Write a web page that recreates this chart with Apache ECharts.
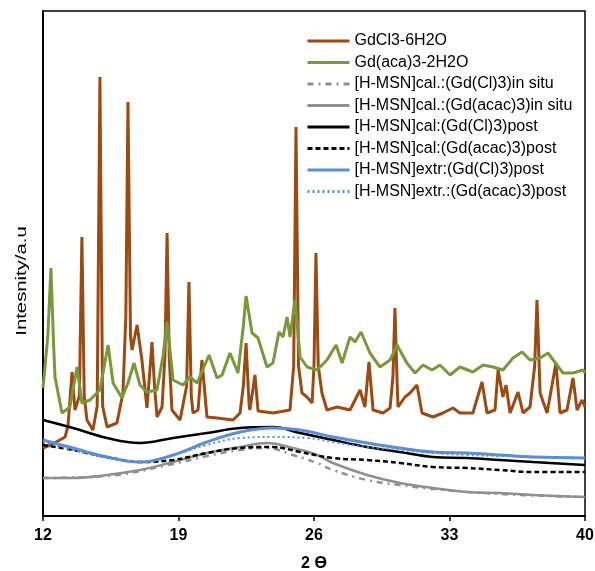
<!DOCTYPE html>
<html>
<head>
<meta charset="utf-8">
<script src="https://cdn.jsdelivr.net/npm/echarts@6/dist/echarts.min.js"></script>
<style>
  html, body { margin: 0; padding: 0; background: #fff; }
  #chart { width: 595px; height: 571px; }
</style>
</head>
<body>
<div id="chart"></div>
<script>
// series names (legend order)
const seriesNames = [
  'GdCl3-6H2O',
  'Gd(aca)3-2H2O',
  '[H-MSN]cal.:(Gd(Cl)3)in situ',
  '[H-MSN]cal.:(Gd(acac)3)in situ',
  '[H-MSN]cal:(Gd(Cl)3)post',
  '[H-MSN]cal:(Gd(acac)3)post',
  '[H-MSN]extr:(Gd(Cl)3)post',
  '[H-MSN]extr.:(Gd(acac)3)post'
];

const xTicks = [12, 19, 26, 33, 40];

// [2theta, intensity (a.u.)]
const gdcl3 = [
  [12.00, 68], [12.50, 72], [13.14, 79], [13.29, 90], [13.50, 144], [13.65, 106],
  [13.88, 120], [14.01, 279], [14.13, 120], [14.27, 96], [14.58, 86], [14.80, 110],
  [14.94, 439], [15.08, 110], [15.31, 89], [15.82, 93], [16.13, 123], [16.28, 200],
  [16.39, 414], [16.52, 180], [16.60, 166], [16.86, 191], [17.11, 156], [17.37, 108],
  [17.50, 140], [17.63, 174], [17.76, 130], [17.89, 99], [18.15, 109], [18.30, 160],
  [18.41, 283], [18.52, 160], [18.66, 106], [19.08, 96], [19.42, 130], [19.54, 234],
  [19.66, 120], [19.75, 103], [20.01, 106], [20.21, 156], [20.47, 99], [20.99, 98],
  [21.82, 96], [22.18, 103], [22.35, 130], [22.49, 173], [22.65, 110], [22.69, 106],
  [22.95, 141], [23.11, 105], [23.21, 103], [23.88, 103], [24.76, 106], [24.95, 150],
  [25.07, 389], [25.20, 150], [25.38, 123], [25.64, 119], [25.90, 113], [26.00, 150],
  [26.10, 263], [26.22, 150], [26.41, 123], [26.67, 106], [27.19, 109], [27.86, 106],
  [28.38, 126], [28.63, 109], [28.84, 154], [29.05, 106], [29.56, 103], [29.93, 108],
  [30.08, 140], [30.18, 208], [30.30, 130], [30.34, 109], [30.70, 119], [30.96, 123],
  [31.32, 131], [31.58, 103], [32.15, 99], [32.66, 103], [33.18, 108], [33.54, 103],
  [34.21, 103], [34.68, 134], [34.94, 103], [35.35, 106], [35.51, 146], [35.76, 119],
  [35.92, 131], [36.13, 103], [36.54, 124], [36.80, 103], [37.16, 109], [37.40, 150],
  [37.52, 216], [37.68, 123], [38.04, 103], [38.50, 153], [38.71, 103], [39.07, 106],
  [39.38, 138], [39.59, 106], [39.85, 116], [40.00, 109]
];

const gdacac = [
  [12.00, 128], [12.25, 180], [12.41, 248], [12.55, 170], [12.62, 139], [12.98, 103],
  [13.39, 109], [13.76, 149], [14.01, 113], [14.43, 116], [14.94, 126], [15.36, 171],
  [15.62, 133], [16.08, 118], [16.39, 133], [16.70, 153], [17.01, 131], [17.37, 124],
  [17.89, 126], [18.20, 160], [18.41, 194], [18.72, 136], [19.23, 131], [19.59, 139],
  [19.96, 133], [20.58, 161], [20.99, 138], [21.25, 141], [21.66, 163], [22.07, 143],
  [22.35, 190], [22.49, 220], [22.80, 183], [23.11, 178], [23.57, 149], [23.88, 153],
  [24.19, 184], [24.40, 179], [24.61, 199], [24.76, 179], [25.02, 216], [25.28, 159],
  [25.64, 149], [26.16, 146], [26.67, 156], [27.14, 171], [27.45, 153], [27.86, 179],
  [28.12, 174], [28.43, 184], [28.89, 163], [29.41, 149], [29.93, 156], [30.29, 171],
  [30.80, 153], [31.22, 143], [31.63, 151], [32.10, 146], [32.51, 151], [33.03, 141],
  [33.54, 149], [34.21, 144], [34.73, 151], [35.25, 149], [35.76, 146], [36.28, 158],
  [36.75, 164], [37.16, 156], [37.68, 158], [38.09, 163], [38.55, 151], [38.86, 143],
  [39.38, 143], [39.90, 146], [40.00, 143]
];

const calClInSitu = [
  [12.00, 38], [15.31, 40], [18.72, 52], [20.47, 60], [22.18, 66], [23.57, 68],
  [24.91, 61], [26.16, 53], [26.98, 46], [28.74, 36], [30.44, 31], [32.15, 27],
  [35.61, 22], [40.00, 19]
];

const calAcacInSitu = [
  [12.00, 38], [13.55, 38], [15.31, 41], [17.01, 46], [18.72, 54], [20.47, 63],
  [22.18, 69], [23.57, 73], [24.91, 68], [26.16, 61], [26.98, 53], [28.74, 41],
  [30.44, 33], [32.15, 28], [33.90, 24], [35.61, 23], [37.31, 21], [40.00, 19]
];

const calClPost = [
  [12.00, 96], [13.55, 88], [15.31, 78], [17.01, 73], [18.72, 78], [20.47, 83],
  [22.18, 88], [23.88, 89], [25.28, 83], [26.98, 76], [28.74, 69], [30.44, 64],
  [32.15, 59], [33.90, 58], [35.61, 56], [37.31, 54], [40.00, 51]
];

const calAcacPost = [
  [12.00, 71], [13.55, 66], [15.31, 59], [17.01, 54], [18.72, 56], [20.47, 63],
  [22.18, 68], [23.88, 69], [25.28, 64], [26.98, 58], [28.74, 56], [30.44, 53],
  [32.15, 49], [33.90, 48], [35.61, 46], [37.31, 44], [40.00, 44]
];

const extrClPost = [
  [12.00, 76], [13.55, 68], [15.31, 59], [17.01, 54], [18.72, 61], [20.47, 74],
  [22.18, 84], [23.88, 88], [25.28, 86], [26.98, 79], [28.74, 73], [30.44, 68],
  [32.15, 64], [33.90, 63], [35.61, 61], [37.31, 59], [40.00, 58]
];

const extrAcacPost = [
  [12.00, 74], [13.55, 66], [15.31, 58], [17.01, 54], [18.72, 61], [20.47, 71],
  [22.18, 78], [23.88, 79], [25.64, 78], [26.98, 74], [28.74, 69], [30.44, 66],
  [32.15, 63], [33.90, 61], [35.61, 60], [37.31, 59], [40.00, 58]
];

const chart = echarts.init(document.getElementById('chart'));

function line(name, data, color, width, type, smooth, z) {
  return {
    name: name,
    type: 'line',
    data: data,
    symbol: 'none',
    smooth: smooth,
    z: z,
    lineStyle: { color: color, width: width, type: type },
    itemStyle: { color: color }
  };
}

const font = 'Liberation Sans, Arial, sans-serif';

chart.setOption({
  animation: false,
  grid: {
    left: 43, right: 10, top: 11, bottom: 55,
    outerBoundsMode: 'none',
    show: true, borderColor: '#000', borderWidth: 1.5
  },
  legend: {
    orient: 'vertical',
    left: 306,
    top: 33,
    padding: 0,
    itemWidth: 42,
    itemHeight: 14,
    itemGap: 5.5,
    itemStyle: { opacity: 0 },
    lineStyle: { width: 3 },
    textStyle: { fontFamily: font, fontSize: 16, color: '#000', lineHeight: 16 },
    data: seriesNames
  },
  xAxis: {
    type: 'value',
    min: 12,
    max: 40,
    interval: 7,
    name: '2 Ɵ',
    nameLocation: 'middle',
    nameGap: 40,
    nameTextStyle: { fontFamily: font, fontSize: 16, fontWeight: 'bold', color: '#000' },
    axisLine: { lineStyle: { color: '#000', width: 2 } },
    axisTick: { show: true, length: 5, lineStyle: { color: '#000', width: 1.5 } },
    axisLabel: {
      fontFamily: font, fontSize: 16, fontWeight: 'bold', color: '#000', margin: 12,
      formatter: v => xTicks.includes(v) ? String(v) : ''
    },
    splitLine: { show: false }
  },
  yAxis: {
    type: 'value',
    min: 0,
    max: 505,
    axisLine: { show: true, lineStyle: { color: '#000', width: 2 } },
    axisTick: { show: false },
    axisLabel: { show: false },
    splitLine: { show: false }
  },
  graphic: [{
    type: 'text',
    x: 22,
    y: 281,
    rotation: Math.PI / 2,
    scaleX: 1.45,
    style: {
      text: 'Intesnity/a.u',
      font: '14px ' + font,
      fill: '#000',
      align: 'center',
      verticalAlign: 'middle'
    }
  }],
  series: [
    line(seriesNames[0], gdcl3, '#9C4A12', 3, 'solid', false, 2),
    line(seriesNames[1], gdacac, '#77983B', 3, 'solid', false, 3),
    line(seriesNames[2], calClInSitu, '#8F8F8F', 2.5, [6, 5, 2, 5], 0.4, 2),
    line(seriesNames[3], calAcacInSitu, '#8F8F8F', 2.5, 'solid', 0.4, 2),
    line(seriesNames[4], calClPost, '#000000', 2.5, 'solid', 0.4, 2),
    line(seriesNames[5], calAcacPost, '#000000', 2.5, [5, 3], 0.4, 2),
    line(seriesNames[6], extrClPost, '#5B8ED6', 3, 'solid', 0.4, 2),
    line(seriesNames[7], extrAcacPost, '#5B8ED6', 2, [2, 3], 0.4, 2)
  ]
});
</script>
</body>
</html>
